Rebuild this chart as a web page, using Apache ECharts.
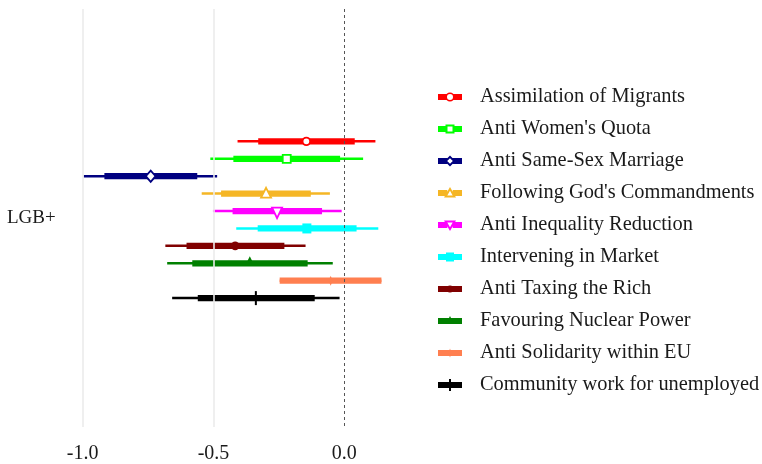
<!DOCTYPE html>
<html><head><meta charset="utf-8">
<script src="https://cdn.jsdelivr.net/npm/echarts@6/dist/echarts.min.js"></script>
<style>html,body{margin:0;padding:0;background:#fff}#c{width:762px;height:464px}</style>
</head><body><div id="c"></div>
<script>
// ---- data ----
const categories = [
  "Assimilation of Migrants", "Anti Women's Quota", "Anti Same-Sex Marriage",
  "Following God's Commandments", "Anti Inequality Reduction", "Intervening in Market",
  "Anti Taxing the Rich", "Favouring Nuclear Power", "Anti Solidarity within EU",
  "Community work for unemployed"
];
const estimates = [-0.145, -0.220, -0.740, -0.299, -0.257, -0.143, -0.417, -0.361, -0.052, -0.338];
const ci95Low   = [-0.408, -0.512, -0.996, -0.545, -0.502, -0.413, -0.684, -0.677, -0.247, -0.658];
const ci95High  = [ 0.119,  0.072, -0.486, -0.055, -0.010,  0.130, -0.148, -0.044,  0.142, -0.018];
const ci90Low   = [-0.329, -0.424, -0.917, -0.471, -0.427, -0.331, -0.603, -0.581, -0.247, -0.560];
const ci90High  = [ 0.040, -0.016, -0.562, -0.128, -0.085,  0.047, -0.229, -0.140,  0.142, -0.113];
const groupLabel = "LGB+";
const xTicks = [-1.0, -0.5, 0.0];

// ---- styles ----
const colors = ['#FF0000', '#00FF00', '#000080', '#F5B625', '#FF00FF', '#00FFFF', '#800000', '#008000', '#FF7F50', '#000000'];
const shapes = ['openCircle', 'openSquare', 'openDiamond', 'openTriangleUp', 'openTriangleDown', 'square', 'circle', 'triangle', 'diamond', 'plus'];
const FONT = "'Liberation Serif', 'Times New Roman', serif";

function markerShape(shape, x, y, color) {
  const open = { fill: '#fff', stroke: color, lineWidth: 1.8 };
  const solid = { fill: color };
  switch (shape) {
    case 'openCircle': return { type: 'circle', shape: { cx: x, cy: y, r: 3.8 }, style: open };
    case 'openSquare': return { type: 'rect', shape: { x: x - 4, y: y - 4, width: 8, height: 8 }, style: open };
    case 'openDiamond': return { type: 'polygon', shape: { points: [[x, y - 5.6], [x + 4.9, y], [x, y + 5.6], [x - 4.9, y]] }, style: open };
    case 'openTriangleUp': return { type: 'polygon', shape: { points: [[x, y - 5.8], [x + 5, y + 4], [x - 5, y + 4]] }, style: open };
    case 'openTriangleDown': return { type: 'polygon', shape: { points: [[x - 5, y - 3.5], [x + 5, y - 3.5], [x, y + 7]] }, style: open };
    case 'square': return { type: 'rect', shape: { x: x - 4.5, y: y - 5, width: 9, height: 10 }, style: solid };
    case 'circle': return { type: 'circle', shape: { cx: x, cy: y, r: 4.3 }, style: solid };
    case 'triangle': return { type: 'polygon', shape: { points: [[x, y - 7], [x + 4.5, y + 2], [x - 4.5, y + 2]] }, style: solid };
    case 'diamond': return { type: 'polygon', shape: { points: [[x, y - 5], [x + 2, y], [x, y + 5], [x - 2, y]] }, style: solid };
    case 'plus': return { type: 'rect', shape: { x: x - 1, y: y - 7, width: 2, height: 14 }, style: solid };
  }
}

// legend icon paths: bbox 37x12, bar 0..24 x 3..9
function legendIcon(shape) {
  const corners = 'M0,0 L0.01,0 L0,0.01 Z M37,12 L36.99,12 L37,11.99 Z ';
  const bar = (a, b) => `M${a},3 L${b},3 L${b},9 L${a},9 Z `;
  const full = bar(0, 24);
  let p;
  switch (shape) {
    case 'openCircle': p = bar(0, 9) + bar(15, 24) + 'M7.5,6 A4.5,4.5 0 1 1 16.5,6 A4.5,4.5 0 1 1 7.5,6 Z M9,6 A3,3 0 1 0 15,6 A3,3 0 1 0 9,6 Z'; break;
    case 'openSquare': p = bar(0, 9.5) + bar(14.5, 24) + 'M7.5,1.5 L16.5,1.5 L16.5,10.5 L7.5,10.5 Z M9.5,3.5 L9.5,8.5 L14.5,8.5 L14.5,3.5 Z'; break;
    case 'openDiamond': p = bar(0, 9.2) + bar(14.8, 24) + 'M12,0.5 L17.5,6 L12,11.5 L6.5,6 Z M12,3.2 L9.2,6 L12,8.8 L14.8,6 Z'; break;
    case 'openTriangleUp': p = bar(0, 9.3) + bar(14.7, 24) + 'M12,0 L18,10.5 L6,10.5 Z M12,3.8 L9.3,8.5 L14.7,8.5 Z'; break;
    case 'openTriangleDown': p = bar(0, 9.3) + bar(14.7, 24) + 'M6,1.5 L18,1.5 L12,12 Z M9.3,3.5 L12,8.2 L14.7,3.5 Z'; break;
    case 'square': p = full + 'M8,1.5 L16,1.5 L16,10.5 L8,10.5 Z'; break;
    case 'circle': p = full + 'M8.5,6 A3.5,3.5 0 1 1 15.5,6 A3.5,3.5 0 1 1 8.5,6 Z'; break;
    case 'triangle': p = full + 'M12,1 L14.5,6 L9.5,6 Z'; break;
    case 'diamond': p = full + 'M12,1.5 L13.5,6 L12,10.5 L10.5,6 Z'; break;
    case 'plus': p = full + 'M11,0 L13,0 L13,12 L11,12 Z'; break;
  }
  return 'path://' + corners + p;
}

const series = categories.map((name, i) => ({
  type: 'custom',
  name: name,
  itemStyle: { color: colors[i] },
  encode: { x: [0, 1, 2, 3, 4], y: 5 },
  data: [[ci95Low[i], ci95High[i], ci90Low[i], ci90High[i], estimates[i], i]],
  renderItem: function (params, api) {
    const row = api.value(5);
    const p95a = api.coord([api.value(0), row]);
    const p95b = api.coord([api.value(1), row]);
    const p90a = api.coord([api.value(2), row]);
    const p90b = api.coord([api.value(3), row]);
    const pe = api.coord([api.value(4), row]);
    const y = pe[1];
    const c = colors[i];
    return {
      type: 'group',
      children: [
        { type: 'line', shape: { x1: p95a[0], y1: y, x2: p95b[0], y2: y }, style: { stroke: c, lineWidth: 2.5 } },
        { type: 'line', shape: { x1: p90a[0], y1: y, x2: p90b[0], y2: y }, style: { stroke: c, lineWidth: 6.2 } },
        markerShape(shapes[i], pe[0], y, c)
      ]
    };
  }
}));

// reference lines
series.unshift({
  type: 'line', name: '_ref', data: [], silent: true, symbol: 'none',
  markLine: {
    silent: true, symbol: ['none', 'none'], label: { show: false },
    data: [
      { xAxis: xTicks[0], lineStyle: { color: '#EBEBEB', width: 1.6, type: 'solid' } },
      { xAxis: xTicks[1], lineStyle: { color: '#EBEBEB', width: 1.6, type: 'solid' } },
      { xAxis: xTicks[2], lineStyle: { color: '#555', width: 1, type: [3, 3] } }
    ]
  }
});

const chart = echarts.init(document.getElementById('c'), null, { renderer: 'canvas' });
chart.setOption({
  backgroundColor: '#fff',
  animation: false,
  grid: { left: 69.6, width: 327, top: 9, height: 426 },
  xAxis: {
    type: 'value', min: -1.05, max: 0.2,
    axisLine: { show: false }, axisTick: { show: false }, splitLine: { show: false },
    axisLabel: {
      customValues: xTicks, formatter: v => v.toFixed(1),
      fontSize: 20, fontFamily: FONT, color: '#1a1a1a', margin: 17
    }
  },
  yAxis: {
    type: 'value', inverse: true, min: -7.6, max: 16.4,
    axisLine: { show: false }, axisTick: { show: false }, splitLine: { show: false },
    axisLabel: {
      customValues: [4.4], formatter: () => groupLabel,
      fontSize: 19, fontFamily: FONT, color: '#1a1a1a', margin: 14
    }
  },
  legend: {
    orient: 'vertical', left: 438, top: 86, padding: 0,
    itemWidth: 37, itemHeight: 12, itemGap: 10,
    itemStyle: { borderWidth: 0 },
    textStyle: { fontSize: 20.4, fontFamily: FONT, color: '#1a1a1a', lineHeight: 22 },
    data: categories.map((n, i) => ({ name: n, icon: legendIcon(shapes[i]) })),
    selectedMode: false
  },
  series: series
});
</script>
</body></html>
